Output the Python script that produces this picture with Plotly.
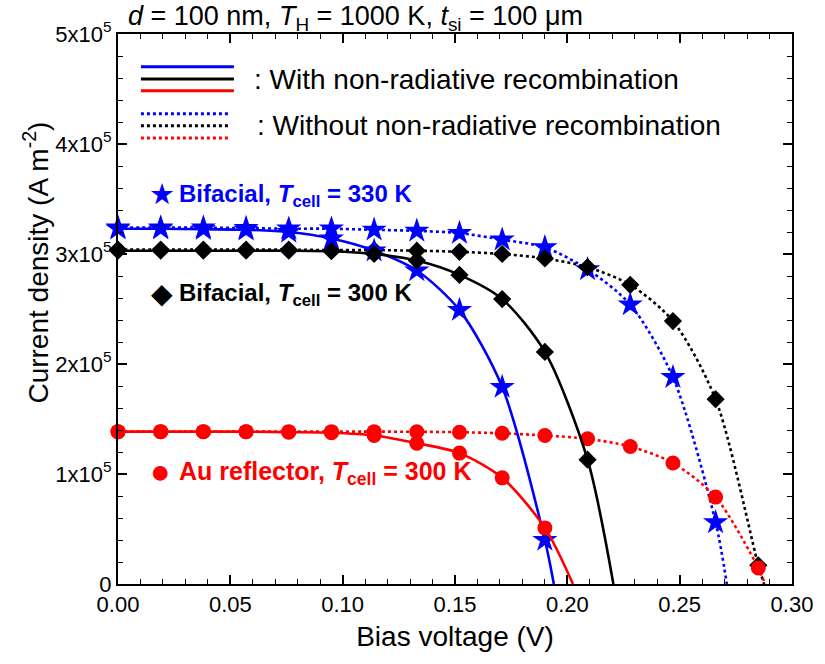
import plotly.graph_objects as go

# ---------------- data ----------------
voltage = [0.000, 0.019, 0.038, 0.057, 0.076, 0.095, 0.114, 0.133,
           0.152, 0.171, 0.190, 0.209, 0.228, 0.247, 0.266, 0.285]

# current density values in units of 1e5 A m^-2
blue_with = [3.23, 3.23, 3.225, 3.22, 3.20, 3.14, 3.03, 2.85, 2.49, 1.79, 0.40]
blue_without = [3.24, 3.24, 3.24, 3.235, 3.23, 3.23, 3.22, 3.21, 3.19, 3.13,
                3.06, 2.86, 2.54, 1.88, 0.56]
black_with = [3.03, 3.03, 3.03, 3.03, 3.03, 3.025, 3.00, 2.94, 2.81, 2.59,
              2.11, 1.13]
black_without = [3.04, 3.04, 3.04, 3.04, 3.04, 3.035, 3.035, 3.03, 3.02, 3.00,
                 2.96, 2.88, 2.72, 2.39, 1.68, 0.17]
red_with = [1.385, 1.385, 1.385, 1.385, 1.38, 1.375, 1.35, 1.28, 1.19, 0.965, 0.51]
red_without = [1.385, 1.385, 1.385, 1.385, 1.385, 1.385, 1.385, 1.384, 1.38,
               1.37, 1.35, 1.32, 1.25, 1.10, 0.79, 0.145]

# open-circuit voltages (where each curve reaches zero current)
voc_blue_with = 0.194
voc_blue_without = 0.271
voc_black_with = 0.2205
voc_black_without = 0.2876
voc_red_with = 0.2025
voc_red_without = 0.288

y_tick_vals = [0, 1e5, 2e5, 3e5, 4e5, 5e5]
y_tick_text = ["0", "1x10<sup>5</sup>", "2x10<sup>5</sup>", "3x10<sup>5</sup>",
               "4x10<sup>5</sup>", "5x10<sup>5</sup>"]
x_tick_vals = [0, 0.05, 0.10, 0.15, 0.20, 0.25, 0.30]
x_tick_text = ["0.00", "0.05", "0.10", "0.15", "0.20", "0.25", "0.30"]

SCALE = 1e5
FONT = "Arial, Liberation Sans, sans-serif"
BLUE, BLACK, RED = "#0000FF", "#000000", "#FF0000"

series = [
    (blue_without, voc_blue_without, BLUE, "dot", "star", 19),
    (black_without, voc_black_without, BLACK, "dot", "diamond", 14),
    (red_without, voc_red_without, RED, "dot", "circle", 15),
    (blue_with, voc_blue_with, BLUE, "solid", "star", 19),
    (black_with, voc_black_with, BLACK, "solid", "diamond", 14),
    (red_with, voc_red_with, RED, "solid", "circle", 15),
]

fig = go.Figure()
for vals, voc, col, dash, sym, msize in series:
    xs = voltage[:len(vals)]
    ys = [v * SCALE for v in vals]
    fig.add_trace(go.Scatter(
        x=xs + [voc], y=ys + [0], mode="lines",
        line=dict(color=col, width=2.6, dash=dash, shape="spline", smoothing=0.8),
        showlegend=False, hoverinfo="skip"))
    fig.add_trace(go.Scatter(
        x=xs, y=ys, mode="markers",
        marker=dict(symbol=sym, size=msize, color=col, line=dict(width=0)),
        showlegend=False, cliponaxis=False))

axis_common = dict(
    showline=True, linecolor="black", linewidth=2, mirror="allticks",
    ticks="inside", ticklen=9, tickwidth=1.6, tickcolor="black",
    showgrid=False, zeroline=False,
    tickfont=dict(family=FONT, size=22, color="black"),
)

fig.update_xaxes(
    range=[0, 0.30], tickvals=x_tick_vals, ticktext=x_tick_text,
    minor=dict(ticks="inside", ticklen=5, tickwidth=1.4, tickcolor="black", dtick=0.01, tick0=0),
    title=dict(text="Bias voltage (V)", font=dict(family=FONT, size=28, color="black"), standoff=10),
    **axis_common)
fig.update_yaxes(
    range=[0, 5e5], tickvals=y_tick_vals, ticktext=y_tick_text,
    minor=dict(ticks="inside", ticklen=5, tickwidth=1.4, tickcolor="black", dtick=2e4, tick0=0),
    **axis_common)

# legend-like line samples (paper coordinates)
shapes = []
for y, col in [(0.9405, BLUE), (0.918, BLACK), (0.897, RED)]:
    shapes.append(dict(type="line", xref="paper", yref="paper", x0=0.034, x1=0.172,
                       y0=y, y1=y, line=dict(color=col, width=3)))
for y, col in [(0.855, BLUE), (0.833, BLACK), (0.811, RED)]:
    shapes.append(dict(type="line", xref="paper", yref="paper", x0=0.034, x1=0.167,
                       y0=y, y1=y, line=dict(color=col, width=3, dash="dot")))

def ann(text, x, y, size, color, xanchor="left", yanchor="middle", **kw):
    return dict(text=text, xref="paper", yref="paper", x=x, y=y, xanchor=xanchor,
                yanchor=yanchor, showarrow=False,
                font=dict(family=FONT, size=size, color=color), **kw)

annotations = [
    ann("<i>d</i> = 100 nm, <i>T</i><sub>H</sub> = 1000 K, <i>t</i><sub>si</sub> = 100 μm",
        0.012, 1.064, 27, "black", yanchor="top"),
    ann("Current density (A m<sup>-2</sup>)", -0.122, 0.584, 28, "black",
        xanchor="center", textangle=-90),
    ann(": With non-radiative recombination", 0.199, 0.918, 28, "black"),
    ann(": Without non-radiative recombination", 0.203, 0.833, 28, "black"),
    ann("★", 0.0647, 0.709, 29, BLUE, xanchor="center"),
    ann("<b>Bifacial, <i>T</i><sub>cell</sub> = 330 K</b>", 0.088, 0.706, 24, BLUE),
    ann("◆", 0.0647, 0.529, 28, BLACK, xanchor="center"),
    ann("<b>Bifacial, <i>T</i><sub>cell</sub> = 300 K</b>", 0.088, 0.526, 24, BLACK),
    ann("●", 0.0633, 0.2055, 34, RED, xanchor="center"),
    ann("<b>Au reflector, <i>T</i><sub>cell</sub> = 300 K</b>", 0.088, 0.202, 25, RED),
]

fig.update_layout(
    width=825, height=664,
    margin=dict(l=118, r=27, t=34, b=80),
    paper_bgcolor="white", plot_bgcolor="white",
    shapes=shapes, annotations=annotations,
    font=dict(family=FONT, color="black"),
)

fig.write_html("out.html")
